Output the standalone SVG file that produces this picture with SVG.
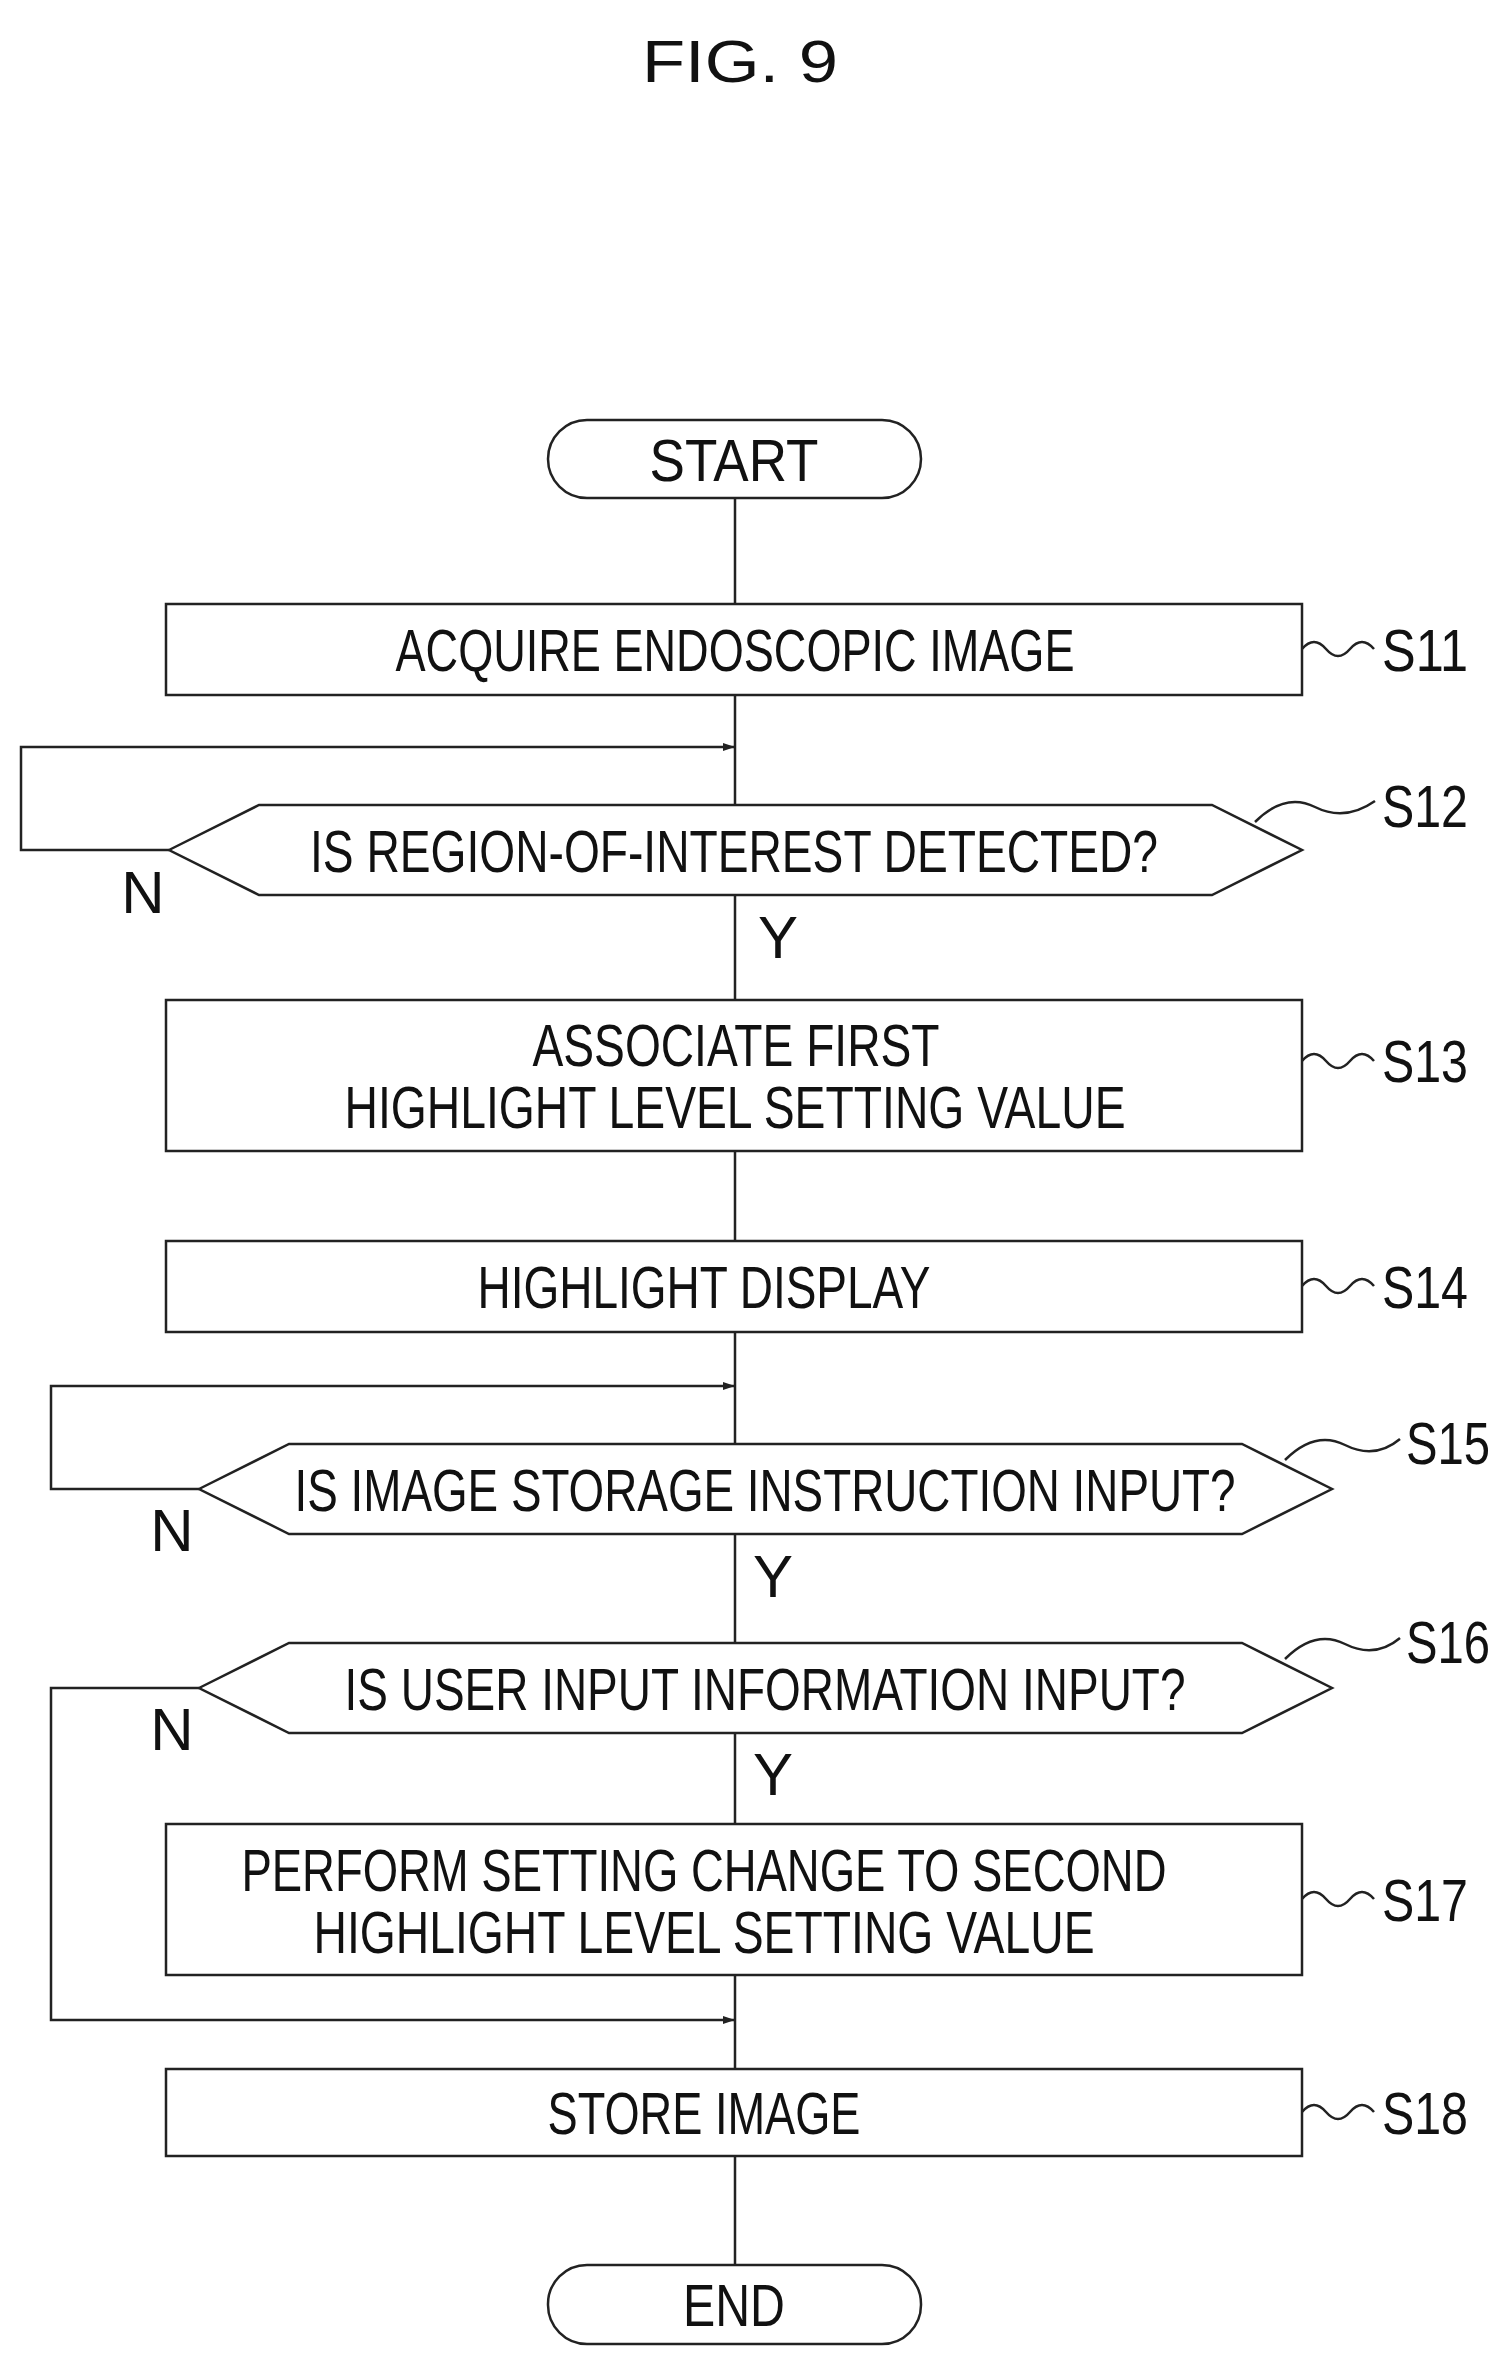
<svg xmlns="http://www.w3.org/2000/svg" width="1510" height="2353" viewBox="0 0 1510 2353">
<style>
.s{fill:#fff;stroke:#222;stroke-width:2.5}
.l{fill:none;stroke:#222;stroke-width:2.5}
text{font-family:"Liberation Sans",Arial,sans-serif;font-size:60px;fill:#111}
.c{text-anchor:middle}
</style>
<defs><marker id="a" markerWidth="12" markerHeight="8" refX="12" refY="4" orient="auto" markerUnits="userSpaceOnUse"><path d="M0,0L12,4L0,8z" fill="#222"/></marker></defs>
<text x="740" y="82" class="c" font-size="76" textLength="196" lengthAdjust="spacingAndGlyphs">FIG. 9</text>
<g id="connectors">
<path class="l" d="M735 498V604M735 695V805M735 895V1000M735 1151V1241M735 1332V1444M735 1534V1643M735 1733V1824M735 1975V2069M735 2156V2265"/>
<path class="l" d="M169 850H21V747H735" marker-end="url(#a)"/>
<path class="l" d="M199 1489H51V1386H735" marker-end="url(#a)"/>
<path class="l" d="M199 1688H51V2020H735" marker-end="url(#a)"/>
<path class="l" d="M1302 649q12-14 24 0t24 0t24 0M1255 822q30-30 60-15t60-6M1302 1061q12-14 24 0t24 0t24 0M1302 1286q12-14 24 0t24 0t24 0M1302 1899q12-14 24 0t24 0t24 0M1302 2112q12-14 24 0t24 0t24 0M1285 1460q30-30 60-15t55-6M1285 1659q30-30 60-15t55-6"/>
</g>
<g id="start"><rect class="s" x="548" y="420" width="373" height="78" rx="39"/><text x="734" y="481" class="c" textLength="169" lengthAdjust="spacingAndGlyphs">START</text></g>
<g id="S11"><rect class="s" x="166" y="604" width="1136" height="91"/><text x="735" y="671" class="c" textLength="679" lengthAdjust="spacingAndGlyphs">ACQUIRE ENDOSCOPIC IMAGE</text><text x="1382" y="671" textLength="86" lengthAdjust="spacingAndGlyphs">S11</text></g>
<g id="S12"><path class="s" d="M169 850L259 805H1212L1302 850L1212 895H259Z"/><text x="734" y="872" class="c" textLength="848" lengthAdjust="spacingAndGlyphs">IS REGION-OF-INTEREST DETECTED?</text><text x="1382" y="827" textLength="86" lengthAdjust="spacingAndGlyphs">S12</text><text x="778" y="958" class="c">Y</text><text x="143" y="913" class="c">N</text></g>
<g id="S13"><rect class="s" x="166" y="1000" width="1136" height="151"/><text x="736" y="1066" class="c" textLength="407" lengthAdjust="spacingAndGlyphs">ASSOCIATE FIRST</text><text x="735" y="1128" class="c" textLength="781" lengthAdjust="spacingAndGlyphs">HIGHLIGHT LEVEL SETTING VALUE</text><text x="1382" y="1082" textLength="86" lengthAdjust="spacingAndGlyphs">S13</text></g>
<g id="S14"><rect class="s" x="166" y="1241" width="1136" height="91"/><text x="704" y="1308" class="c" textLength="453" lengthAdjust="spacingAndGlyphs">HIGHLIGHT DISPLAY</text><text x="1382" y="1308" textLength="86" lengthAdjust="spacingAndGlyphs">S14</text></g>
<g id="S15"><path class="s" d="M199 1489L289 1444H1242L1332 1489L1242 1534H289Z"/><text x="765" y="1511" class="c" textLength="941" lengthAdjust="spacingAndGlyphs">IS IMAGE STORAGE INSTRUCTION INPUT?</text><text x="1406" y="1464" textLength="84" lengthAdjust="spacingAndGlyphs">S15</text><text x="773" y="1597" class="c">Y</text><text x="172" y="1551" class="c">N</text></g>
<g id="S16"><path class="s" d="M199 1688L289 1643H1242L1332 1688L1242 1733H289Z"/><text x="765" y="1710" class="c" textLength="841" lengthAdjust="spacingAndGlyphs">IS USER INPUT INFORMATION INPUT?</text><text x="1406" y="1663" textLength="84" lengthAdjust="spacingAndGlyphs">S16</text><text x="773" y="1795" class="c">Y</text><text x="172" y="1750" class="c">N</text></g>
<g id="S17"><rect class="s" x="166" y="1824" width="1136" height="151"/><text x="704" y="1891" class="c" textLength="925" lengthAdjust="spacingAndGlyphs">PERFORM SETTING CHANGE TO SECOND</text><text x="704" y="1953" class="c" textLength="781" lengthAdjust="spacingAndGlyphs">HIGHLIGHT LEVEL SETTING VALUE</text><text x="1382" y="1921" textLength="86" lengthAdjust="spacingAndGlyphs">S17</text></g>
<g id="S18"><rect class="s" x="166" y="2069" width="1136" height="87"/><text x="704" y="2134" class="c" textLength="313" lengthAdjust="spacingAndGlyphs">STORE IMAGE</text><text x="1382" y="2134" textLength="86" lengthAdjust="spacingAndGlyphs">S18</text></g>
<g id="end"><rect class="s" x="548" y="2265" width="373" height="79" rx="39"/><text x="734" y="2326" class="c" textLength="102" lengthAdjust="spacingAndGlyphs">END</text></g>
</svg>
